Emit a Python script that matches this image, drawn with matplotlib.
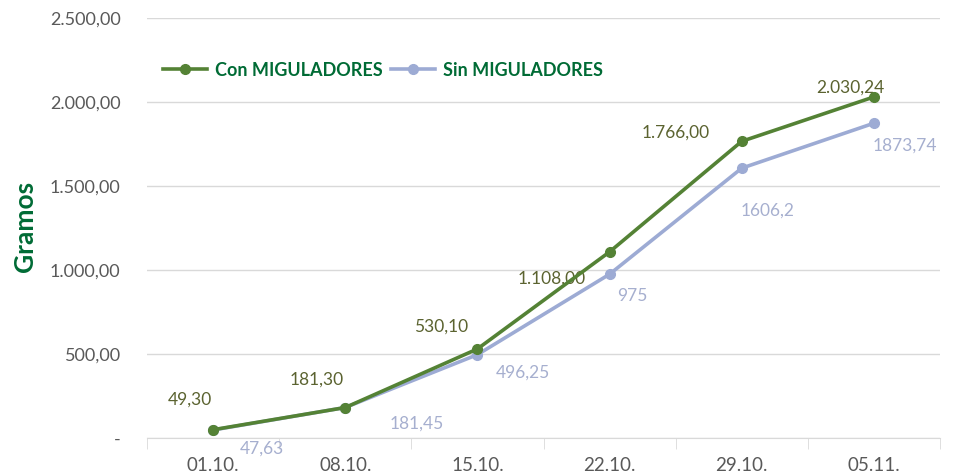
import numpy as np
import matplotlib.pyplot as plt
from matplotlib.ticker import FuncFormatter

plt.rcParams['font.family'] = ['Lato', 'DejaVu Sans']

fechas = ['01.10.', '08.10.', '15.10.', '22.10.', '29.10.', '05.11.']
con_mig = [49.30, 181.30, 530.10, 1108.00, 1766.00, 2030.24]
sin_mig = [47.63, 181.45, 496.25, 975, 1606.2, 1873.74]
con_lbl = ['49,30', '181,30', '530,10', '1.108,00', '1.766,00', '2.030,24']
sin_lbl = ['47,63', '181,45', '496,25', '975', '1606,2', '1873,74']

verde = '#548235'
azul = '#9DABD4'

fig = plt.figure(figsize=(9.55, 4.73), dpi=100)
ax = fig.add_axes([147/955, 35/473, 793/955, 420/473])

x = np.arange(len(fechas))
ax.plot(x, sin_mig, color=azul, lw=2.6, marker='o', ms=7, label='Sin MIGULADORES', zorder=3)
ax.plot(x, con_mig, color=verde, lw=2.6, marker='o', ms=7, label='Con MIGULADORES', zorder=4)

# offsets de las etiquetas (pixeles)
off_con = [(-23, 30), (-29, 28), (-36, 22), (-58, -27), (-66, 9), (-24, 9)]
off_sin = [(49, -19), (71, -16), (45, -18), (23, -22), (26, -42), (31, -22)]
for i in range(len(fechas)):
    ax.annotate(con_lbl[i], (x[i], con_mig[i]), xytext=off_con[i], textcoords='offset pixels',
                ha='center', va='center', fontsize=12.5, color='#5B6330')
    ax.annotate(sin_lbl[i], (x[i], sin_mig[i]), xytext=off_sin[i], textcoords='offset pixels',
                ha='center', va='center', fontsize=12.5, color='#A6AFCF')

ax.set_xlim(-0.5, 5.5)
ax.set_ylim(0, 2500)
ax.set_yticks(np.arange(0, 2501, 500))
ax.yaxis.set_major_formatter(FuncFormatter(
    lambda v, p: '-' if v == 0 else f'{v:,.2f}'.replace(',', 'X').replace('.', ',').replace('X', '.')))
ax.set_xticks(x)
ax.set_xticklabels(fechas)
ax.set_xticks(np.arange(-0.5, 6, 1), minor=True)
ax.tick_params(axis='x', which='major', length=0, pad=14, labelsize=13.5, labelcolor='#595959')
ax.tick_params(axis='x', which='minor', length=8, color='#D9D9D9')
ax.tick_params(axis='y', length=0, pad=19, labelsize=13, labelcolor='#595959')

ax.grid(axis='y', color='#D9D9D9', lw=1)
ax.set_axisbelow(True)
for s in ['top', 'right', 'left']:
    ax.spines[s].set_visible(False)
ax.spines['bottom'].set_color('#D9D9D9')

fig.text(25/955, 1 - 226/473, 'Gramos', rotation=90, ha='center', va='center',
         fontsize=19, fontweight='bold', color='#006B35')

h, l = ax.get_legend_handles_labels()
leg = ax.legend(h[::-1], l[::-1], loc='upper left', bbox_to_anchor=(0.0, 0.935), ncol=2,
                frameon=False, handlelength=2.4, columnspacing=0.5, handletextpad=0.45,
                prop={'weight': 'bold', 'size': 13})
for t in leg.get_texts():
    t.set_color('#006B35')

fig.savefig('out.png', dpi=100)
